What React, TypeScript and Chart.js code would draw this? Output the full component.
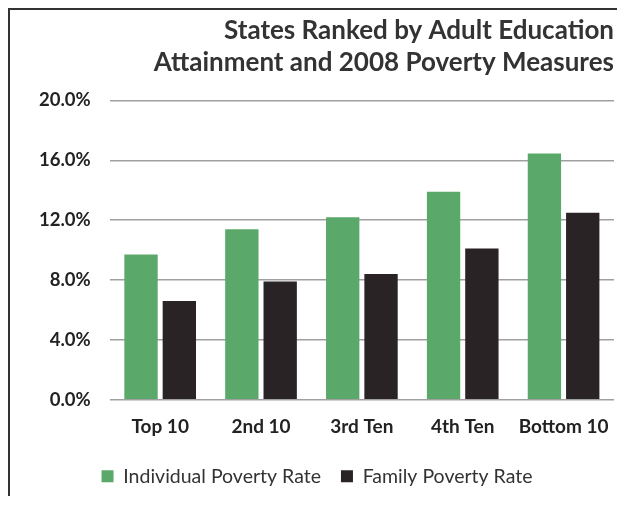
import React, { useEffect, useRef } from "react";
import { Chart, registerables } from "chart.js";

Chart.register(...registerables);

const categories = ["Top 10", "2nd 10", "3rd Ten", "4th Ten", "Bottom 10"];
const individualRate = [9.7, 11.4, 12.2, 13.9, 16.45];
const familyRate = [6.6, 7.9, 8.4, 10.1, 12.5];
const titleLines = ["States Ranked by Adult Education", "Attainment and 2008 Poverty Measures"];

export default function App() {
  const ref = useRef<HTMLCanvasElement | null>(null);
  useEffect(() => {
    document.documentElement.style.overflow = "hidden";
    document.body.style.overflow = "hidden";
    if (!ref.current) return;
    const font = "Lato, 'Open Sans', sans-serif";
    const chart = new Chart(ref.current, {
      type: "bar",
      data: {
        labels: categories,
        datasets: [
          {
            label: "Individual Poverty Rate",
            data: individualRate,
            backgroundColor: "#5aa86a",
            barPercentage: 0.87,
            categoryPercentage: 0.76,
          },
          {
            label: "Family Poverty Rate",
            data: familyRate,
            backgroundColor: "#2a2325",
            barPercentage: 0.87,
            categoryPercentage: 0.76,
          },
        ],
      },
      options: {
        animation: false,
        responsive: false,
        maintainAspectRatio: false,
        layout: { padding: { left: 10, right: 3, top: 2, bottom: 0 } },
        plugins: {
          title: {
            display: true,
            text: titleLines,
            align: "end",
            color: "#333",
            font: { family: font, size: 26, weight: "bold", lineHeight: 1.24 },
            padding: { top: 2, bottom: 22 },
          },
          legend: {
            position: "bottom",
            labels: {
              color: "#333",
              boxWidth: 12,
              boxHeight: 12,
              padding: 20,
              font: { family: font, size: 19.5 },
            },
          },
          tooltip: { enabled: false },
        },
        scales: {
          x: {
            grid: { display: false },
            border: { display: false },
            ticks: {
              color: "#222",
              font: { family: font, size: 19, weight: "bold" },
              padding: 8,
              maxRotation: 0,
              minRotation: 0,
              autoSkip: false,
            },
          },
          y: {
            min: 0,
            max: 20,
            ticks: {
              stepSize: 4,
              color: "#222",
              padding: 19,
              font: { family: font, size: 18.5, weight: "bold" },
              callback: (v: any) => Number(v).toFixed(1) + "%",
            },
            grid: { color: "#a0a0a0", lineWidth: 1.5, drawTicks: false },
            border: { display: false },
          },
        },
      },
    });
    return () => chart.destroy();
  }, []);
  return (
    <div
      style={{
        width: 609,
        height: 488,
        boxSizing: "border-box",
        borderLeft: "2px solid #333",
        borderTop: "2px solid #333",
        background: "#fff",
      }}
    >
      <canvas ref={ref} width={607} height={486} style={{ display: "block" }} />
    </div>
  );
}
